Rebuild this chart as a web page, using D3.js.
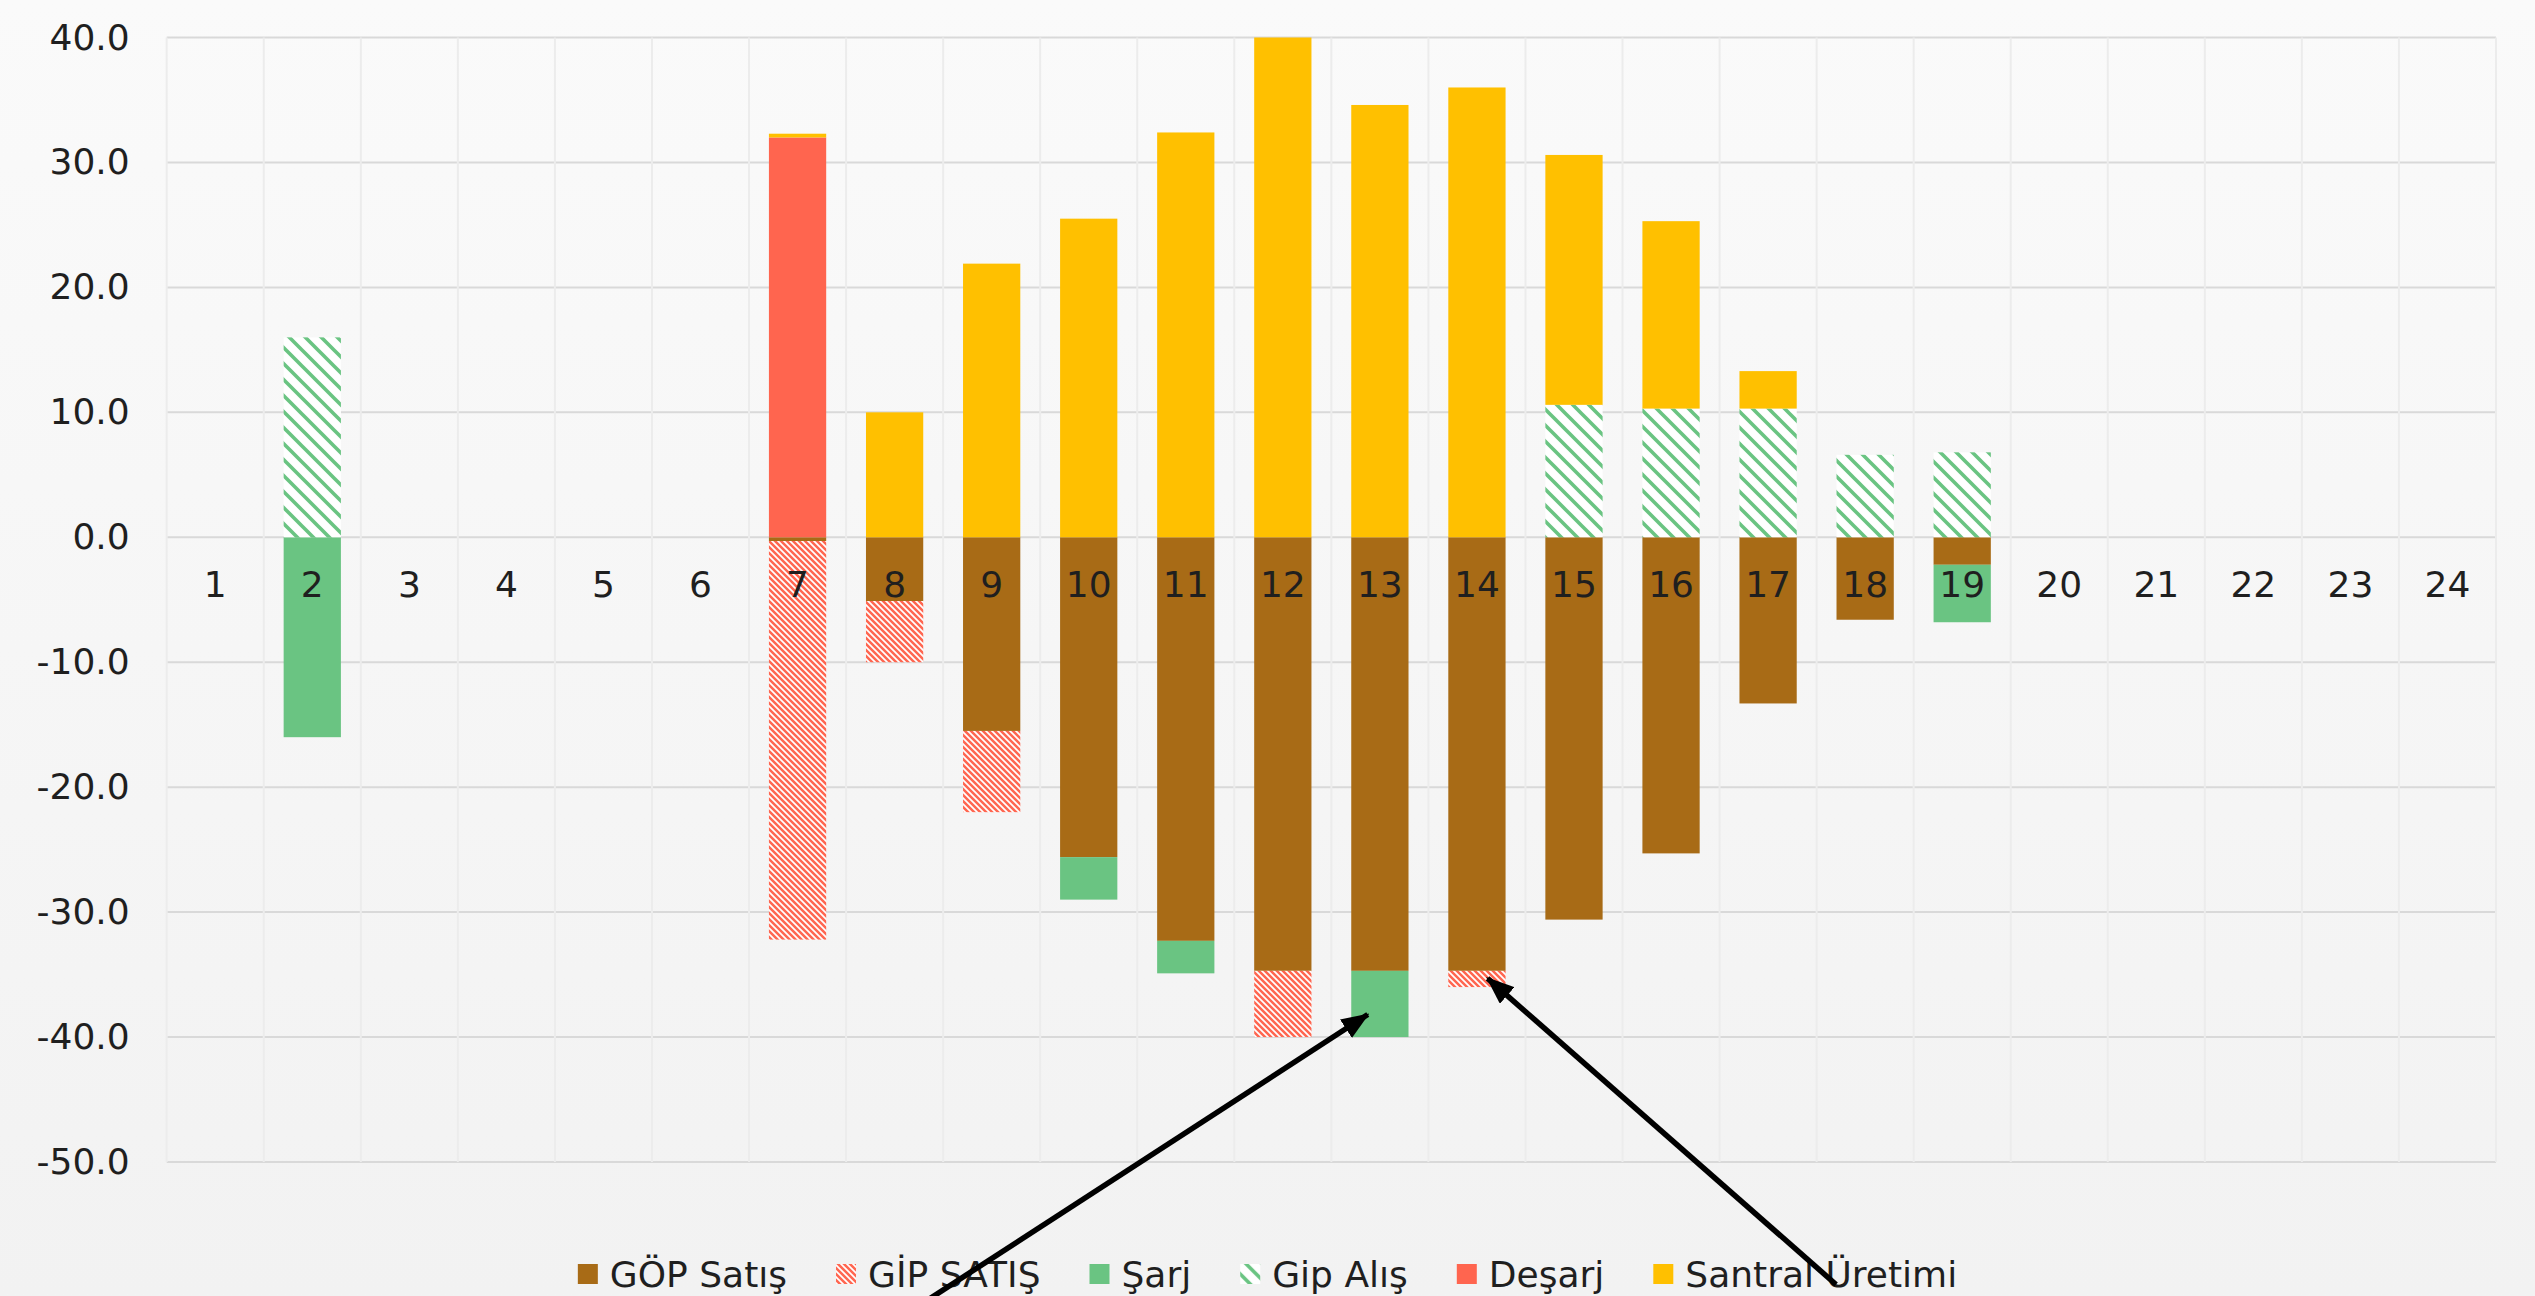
<!DOCTYPE html>
<html>
<head>
<meta charset="utf-8">
<script src="https://cdn.jsdelivr.net/npm/d3@7"></script>
<style>
  html, body { margin: 0; padding: 0; }
  svg { display: block; font-family: "DejaVu Sans", sans-serif; }
</style>
</head>
<body>
<svg id="chart"></svg>
<script>
// hours on the x axis
const hours = d3.range(1, 25);

// series values per hour (MWh)
const gopSatis   = [0, 0, 0, 0, 0, 0, -0.3, -5.1, -15.5, -25.6, -32.3, -34.7, -34.7, -34.7, -30.6, -25.3, -13.3, -6.6, -2.2, 0, 0, 0, 0, 0];
const gipSatis   = [0, 0, 0, 0, 0, 0, -31.9, -4.9, -6.5, 0, 0, -5.3, 0, -1.3, 0, 0, 0, 0, 0, 0, 0, 0, 0, 0];
const sarj       = [0, -16.0, 0, 0, 0, 0, 0, 0, 0, -3.4, -2.6, 0, -5.3, 0, 0, 0, 0, 0, -4.6, 0, 0, 0, 0, 0];
const gipAlis    = [0, 16.0, 0, 0, 0, 0, 0, 0, 0, 0, 0, 0, 0, 0, 10.6, 10.3, 10.3, 6.6, 6.8, 0, 0, 0, 0, 0];
const desarj     = [0, 0, 0, 0, 0, 0, 32.0, 0, 0, 0, 0, 0, 0, 0, 0, 0, 0, 0, 0, 0, 0, 0, 0, 0];
const santral    = [0, 0, 0, 0, 0, 0, 0.3, 10.0, 21.9, 25.5, 32.4, 40.0, 34.6, 36.0, 20.0, 15.0, 3.0, 0, 0, 0, 0, 0, 0, 0];

const seriesNames = ["GÖP Satış", "GİP SATIŞ", "Şarj", "Gip Alış", "Deşarj", "Santral Üretimi"];
const seriesValues = [gopSatis, gipSatis, sarj, gipAlis, desarj, santral];

// y axis ticks
const yTicks = [-50, -40, -30, -20, -10, 0, 10, 20, 30, 40];

// annotation arrows: tip and tail in (band position, value)
const arrows = [
    { tipX: 12.375, tipY: -38.2, tailX: 7.85, tailY: -61.0 },
    { tipX: 13.61, tipY: -35.3, tailX: 17.2, tailY: -59.8 }
];

const width = 2535, height = 1296;
const margin = { top: 37.5, right: 39, bottom: 134, left: 166.7 };

const svg = d3.select('#chart')
    .attr('width', width)
    .attr('height', height);

const defs = svg.append('defs');

// background gradient
const bg = defs.append('linearGradient')
    .attr('id', 'bg')
    .attr('x1', 0).attr('y1', 0).attr('x2', 0).attr('y2', 1);
bg.append('stop').attr('offset', '0%').attr('stop-color', '#fafafa');
bg.append('stop').attr('offset', '100%').attr('stop-color', '#f2f2f2');

svg.append('rect')
    .attr('width', width)
    .attr('height', height)
    .attr('fill', 'url(#bg)');

// hatch patterns
function hatch(id, color, size, sw) {
    const p = defs.append('pattern')
        .attr('id', id)
        .attr('patternUnits', 'userSpaceOnUse')
        .attr('width', size)
        .attr('height', size);
    p.append('rect').attr('width', size).attr('height', size).attr('fill', '#ffffff');
    p.append('path')
        .attr('d', `M${-size / 2},${size / 2} L${size / 2},${size * 1.5} M0,0 L${size},${size} M${size / 2},${-size / 2} L${size * 1.5},${size / 2}`)
        .attr('stroke', color)
        .attr('stroke-width', sw);
}
hatch('gipSatisHatch', '#ff6650', 6, 2.5);
hatch('gipAlisHatch', '#6ac482', 16, 3.6);

const fills = {
    "GÖP Satış": '#a86b16',
    "GİP SATIŞ": 'url(#gipSatisHatch)',
    "Şarj": '#6ac482',
    "Gip Alış": 'url(#gipAlisHatch)',
    "Deşarj": '#ff654f',
    "Santral Üretimi": '#ffc000'
};

// build rows for stacking
const rows = hours.map((h, i) => {
    const r = { hour: h };
    seriesNames.forEach((name, k) => { r[name] = seriesValues[k][i]; });
    return r;
});

const stacked = d3.stack()
    .keys(seriesNames)
    .offset(d3.stackOffsetDiverging)(rows);

// scales
const xScale = d3.scaleBand()
    .domain(hours)
    .range([margin.left, width - margin.right])
    .paddingInner(0.41)
    .paddingOuter(0.205);

const xPos = d3.scaleLinear()
    .domain([0, hours.length])
    .range([margin.left, width - margin.right]);

const yScale = d3.scaleLinear()
    .domain([-50, 40])
    .range([height - margin.bottom, margin.top]);

// horizontal grid
svg.append('g')
    .selectAll('line')
    .data(yTicks)
    .enter()
    .append('line')
    .attr('x1', margin.left)
    .attr('x2', width - margin.right)
    .attr('y1', d => yScale(d))
    .attr('y2', d => yScale(d))
    .attr('stroke', '#d9d9d9')
    .attr('stroke-width', 2);

// vertical grid
svg.append('g')
    .selectAll('line')
    .data(d3.range(0, hours.length + 1))
    .enter()
    .append('line')
    .attr('x1', d => xPos(d))
    .attr('x2', d => xPos(d))
    .attr('y1', yScale(40))
    .attr('y2', yScale(-50))
    .attr('stroke', '#ececec')
    .attr('stroke-width', 2);

// y tick labels (plain hyphen for negatives)
const fmt = d3.format('.1f');
const yAxis = svg.append('g')
    .attr('transform', `translate(${margin.left - 37}, 0)`)
    .call(d3.axisLeft(yScale).tickValues(yTicks).tickFormat(d => fmt(d).replace('\u2212', '-')).tickSize(0).tickPadding(0));
yAxis.select('.domain').remove();
yAxis.selectAll('text')
    .attr('font-size', 36)
    .attr('font-family', '"DejaVu Sans", sans-serif')
    .attr('fill', '#1f1f1f');

// bars
svg.append('g')
    .selectAll('g')
    .data(stacked)
    .enter()
    .append('g')
    .attr('fill', d => fills[d.key])
    .selectAll('rect')
    .data(d => d.filter(s => s[1] - s[0] !== 0))
    .enter()
    .append('rect')
    .attr('x', d => xScale(d.data.hour))
    .attr('width', xScale.bandwidth())
    .attr('y', d => yScale(d[1]))
    .attr('height', d => yScale(d[0]) - yScale(d[1]));

// hour labels (drawn over the bars)
svg.append('g')
    .selectAll('text')
    .data(hours)
    .enter()
    .append('text')
    .attr('x', d => xScale(d) + xScale.bandwidth() / 2)
    .attr('y', yScale(0) + 60)
    .attr('text-anchor', 'middle')
    .attr('font-size', 36)
    .attr('fill', '#1f1f1f')
    .text(d => d);

// legend
const legend = svg.append('g');
let lx = 0;
seriesNames.forEach(name => {
    const item = legend.append('g').attr('transform', `translate(${lx}, 0)`);
    item.append('rect')
        .attr('x', 0)
        .attr('y', -10)
        .attr('width', 20)
        .attr('height', 20)
        .attr('fill', fills[name]);
    const t = item.append('text')
        .attr('x', 32)
        .attr('y', 0)
        .attr('dy', '0.35em')
        .attr('font-size', 36)
        .attr('fill', '#1f1f1f')
        .text(name);
    lx += 32 + t.node().getComputedTextLength() + 49;
});
lx -= 49;
legend.attr('transform', `translate(${(width - lx) / 2}, 1274)`);

// annotation arrows
defs.append('marker')
    .attr('id', 'arrowHead')
    .attr('markerUnits', 'userSpaceOnUse')
    .attr('viewBox', '0 0 28 22')
    .attr('refX', 26)
    .attr('refY', 11)
    .attr('markerWidth', 28)
    .attr('markerHeight', 22)
    .attr('orient', 'auto')
    .append('path')
    .attr('d', 'M0,0 L28,11 L0,22 Z')
    .attr('fill', '#000');

svg.append('g')
    .selectAll('line')
    .data(arrows)
    .enter()
    .append('line')
    .attr('x1', d => xPos(d.tailX))
    .attr('y1', d => yScale(d.tailY))
    .attr('x2', d => xPos(d.tipX))
    .attr('y2', d => yScale(d.tipY))
    .attr('stroke', '#000')
    .attr('stroke-width', 5.5)
    .attr('marker-end', 'url(#arrowHead)');
</script>
</body>
</html>
